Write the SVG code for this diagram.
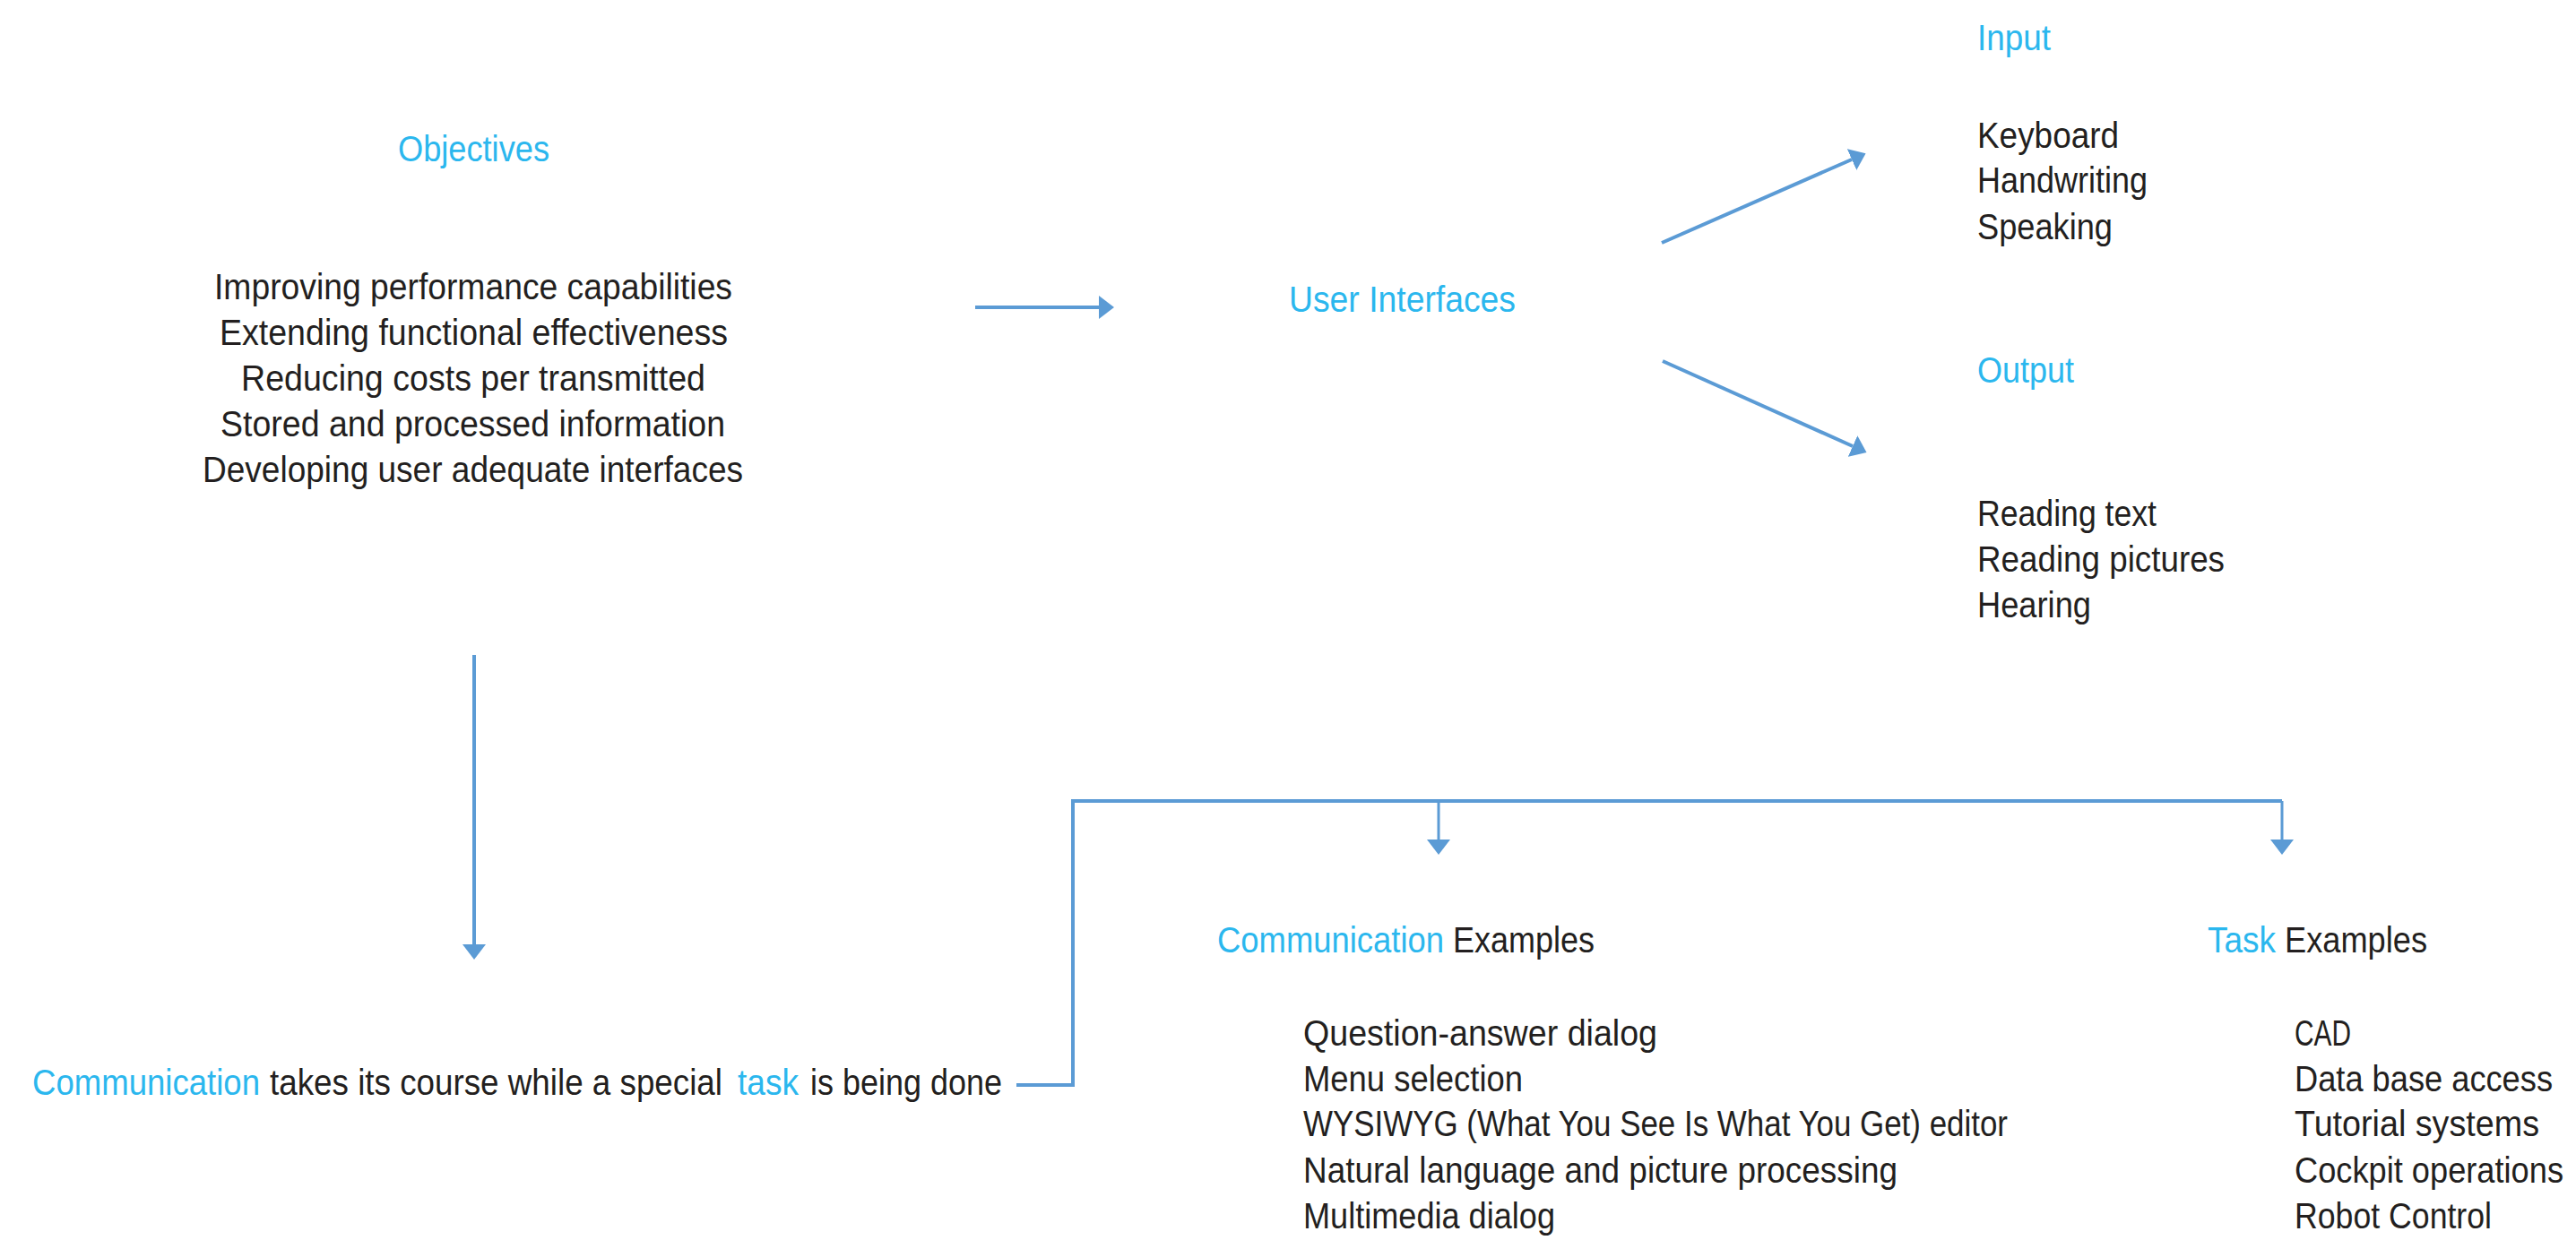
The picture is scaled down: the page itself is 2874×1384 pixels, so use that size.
<svg xmlns="http://www.w3.org/2000/svg" width="2874" height="1384" viewBox="0 0 2874 1384">
<style>
text{font-family:"Liberation Sans","DejaVu Sans",sans-serif;font-size:40px;fill:#231f20}
.b{fill:#2bb7ee}
.c{fill:none;stroke:#5b9bd5;stroke-width:4}
.t{stroke-width:3}
</style>
<defs>
<marker id="ah" markerUnits="userSpaceOnUse" markerWidth="18" markerHeight="26" refX="0" refY="13" orient="auto">
<path d="M0,0 L17,13 L0,26 Z" fill="#5b9bd5"/>
</marker>
</defs>
<rect width="2874" height="1384" fill="#fff"/>
<g id="connectors">
<line class="c" x1="1088" y1="343" x2="1226" y2="343" marker-end="url(#ah)"/>
<line class="c" x1="1854" y1="271" x2="2066" y2="178" marker-end="url(#ah)"/>
<line class="c" x1="1855" y1="403" x2="2067" y2="498" marker-end="url(#ah)"/>
<line class="c" x1="529" y1="731" x2="529" y2="1054" marker-end="url(#ah)"/>
<polyline class="c" points="1134,1211 1197,1211 1197,894 2546,894"/>
<line class="c t" x1="1605" y1="894" x2="1605" y2="937" marker-end="url(#ah)"/>
<line class="c t" x1="2546" y1="894" x2="2546" y2="937" marker-end="url(#ah)"/>
</g>
<g id="objectives">
<text class="b" x="444" y="180" textLength="169" lengthAdjust="spacingAndGlyphs">Objectives</text>
<text x="239" y="334" textLength="578" lengthAdjust="spacingAndGlyphs">Improving performance capabilities</text>
<text x="245" y="385" textLength="567" lengthAdjust="spacingAndGlyphs">Extending functional effectiveness</text>
<text x="269" y="436" textLength="518" lengthAdjust="spacingAndGlyphs">Reducing costs per transmitted</text>
<text x="246" y="487" textLength="563" lengthAdjust="spacingAndGlyphs">Stored and processed information</text>
<text x="226" y="538" textLength="603" lengthAdjust="spacingAndGlyphs">Developing user adequate interfaces</text>
</g>
<g id="user-interfaces">
<text class="b" x="1438" y="348" textLength="253" lengthAdjust="spacingAndGlyphs">User Interfaces</text>
</g>
<g id="input">
<text class="b" x="2206" y="56" textLength="82" lengthAdjust="spacingAndGlyphs">Input</text>
<text x="2206" y="165" textLength="158" lengthAdjust="spacingAndGlyphs">Keyboard</text>
<text x="2206" y="215" textLength="190" lengthAdjust="spacingAndGlyphs">Handwriting</text>
<text x="2206" y="267" textLength="151" lengthAdjust="spacingAndGlyphs">Speaking</text>
</g>
<g id="output">
<text class="b" x="2206" y="427" textLength="108" lengthAdjust="spacingAndGlyphs">Output</text>
<text x="2206" y="587" textLength="200" lengthAdjust="spacingAndGlyphs">Reading text</text>
<text x="2206" y="638" textLength="276" lengthAdjust="spacingAndGlyphs">Reading pictures</text>
<text x="2206" y="689" textLength="127" lengthAdjust="spacingAndGlyphs">Hearing</text>
</g>
<g id="communication-task">
<text class="b" x="36" y="1222" textLength="254" lengthAdjust="spacingAndGlyphs">Communication</text>
<text x="301" y="1222" textLength="505" lengthAdjust="spacingAndGlyphs">takes its course while a special</text>
<text class="b" x="823" y="1222" textLength="68" lengthAdjust="spacingAndGlyphs">task</text>
<text x="904" y="1222" textLength="214" lengthAdjust="spacingAndGlyphs">is being done</text>
</g>
<g id="communication-examples">
<text class="b" x="1358" y="1063" textLength="253" lengthAdjust="spacingAndGlyphs">Communication</text>
<text x="1621" y="1063" textLength="158" lengthAdjust="spacingAndGlyphs">Examples</text>
<text x="1454" y="1167" textLength="395" lengthAdjust="spacingAndGlyphs">Question-answer dialog</text>
<text x="1454" y="1218" textLength="245" lengthAdjust="spacingAndGlyphs">Menu selection</text>
<text x="1454" y="1268" textLength="786" lengthAdjust="spacingAndGlyphs">WYSIWYG (What You See Is What You Get) editor</text>
<text x="1454" y="1320" textLength="663" lengthAdjust="spacingAndGlyphs">Natural language and picture processing</text>
<text x="1454" y="1371" textLength="281" lengthAdjust="spacingAndGlyphs">Multimedia dialog</text>
</g>
<g id="task-examples">
<text class="b" x="2463" y="1063" textLength="76" lengthAdjust="spacingAndGlyphs">Task</text>
<text x="2549" y="1063" textLength="159" lengthAdjust="spacingAndGlyphs">Examples</text>
<text x="2560" y="1167" textLength="63" lengthAdjust="spacingAndGlyphs">CAD</text>
<text x="2560" y="1218" textLength="288" lengthAdjust="spacingAndGlyphs">Data base access</text>
<text x="2560" y="1268" textLength="273" lengthAdjust="spacingAndGlyphs">Tutorial systems</text>
<text x="2560" y="1320" textLength="300" lengthAdjust="spacingAndGlyphs">Cockpit operations</text>
<text x="2560" y="1371" textLength="220" lengthAdjust="spacingAndGlyphs">Robot Control</text>
</g>
</svg>
